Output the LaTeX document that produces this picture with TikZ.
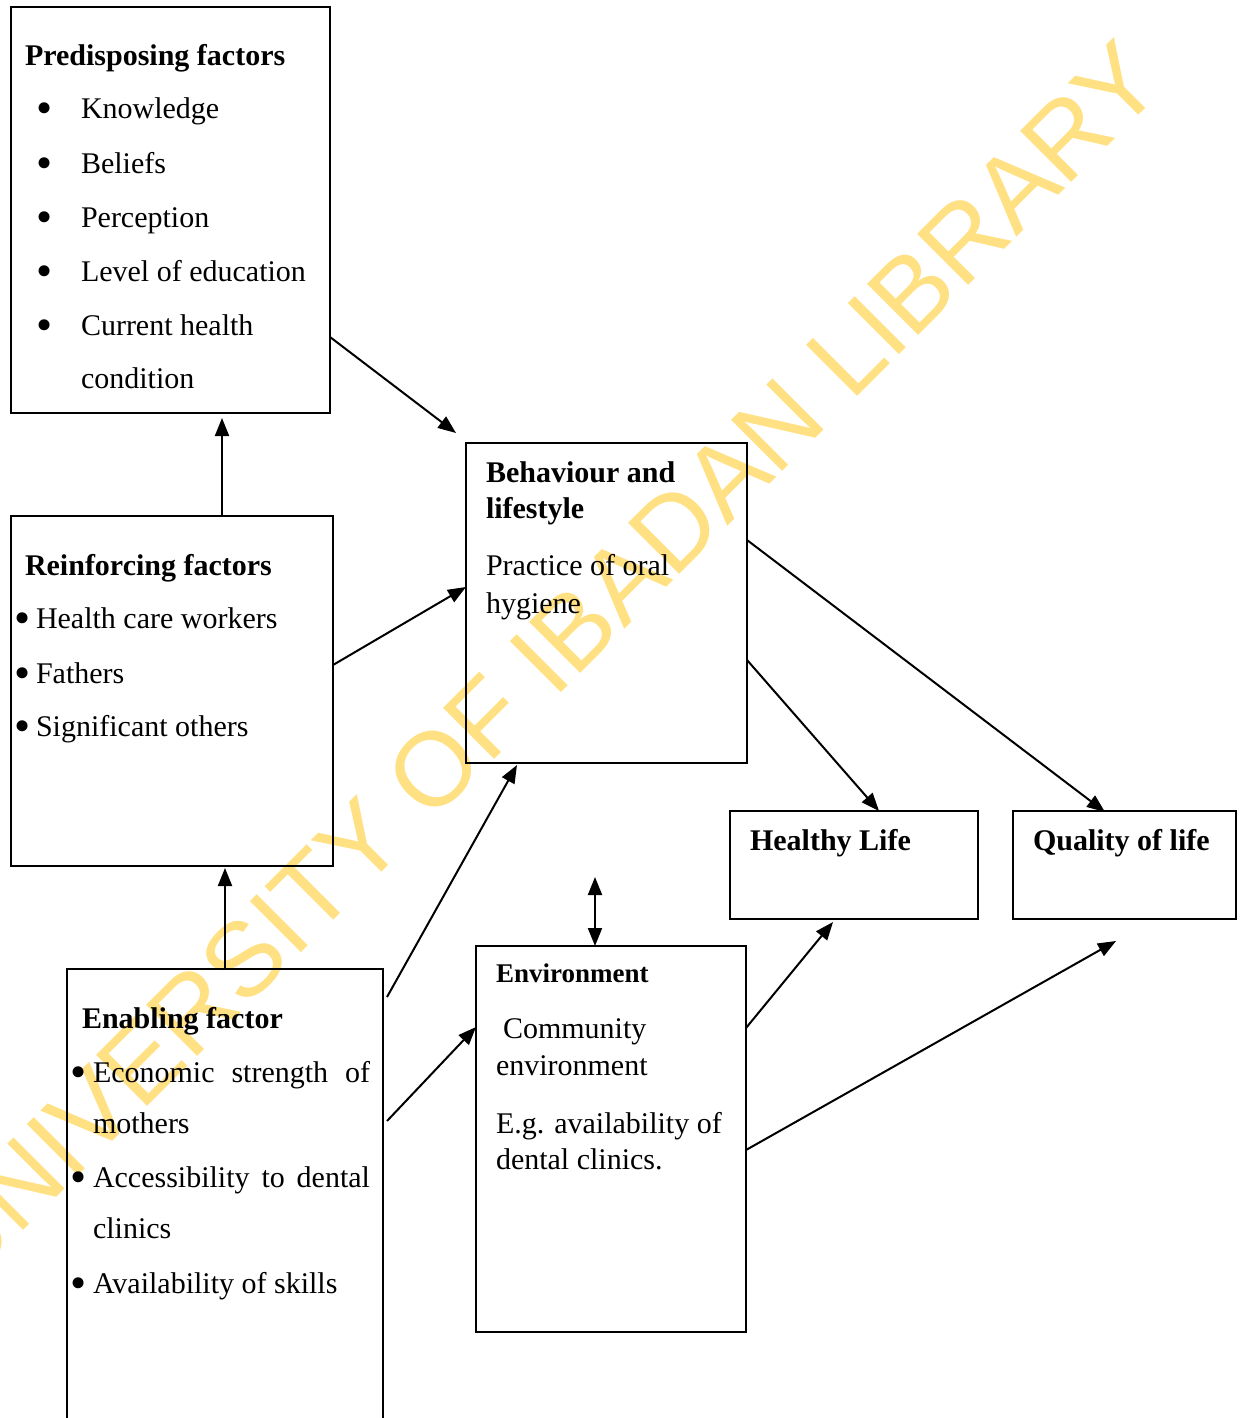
\documentclass[tikz,border=0pt]{standalone}
\usepackage{fontspec}
\setmainfont{Liberation Serif}
\newfontfamily\wmfont{Liberation Sans}
\usetikzlibrary{arrows.meta}
\definecolor{wmyellow}{HTML}{FFE082}
\tikzset{
  box/.style={draw, line width=2pt, rectangle, anchor=north west, inner sep=0pt, outer sep=0pt},
  txt/.style={anchor=base west, inner sep=0pt, outer sep=0pt, font=\fontsize{30}{36}\selectfont},
  ttl/.style={txt, font=\fontsize{30}{36}\selectfont\bfseries},
  bul/.style={anchor=base west, inner sep=0pt, outer sep=0pt, font=\fontsize{46}{46}\selectfont, yshift=-5pt},
  arr/.style={-{Triangle[length=18pt,width=14pt]}, line width=2pt},
  darr/.style={{Triangle[length=18pt,width=14pt]}-{Triangle[length=18pt,width=14pt]}, line width=2pt}
}
\begin{document}
\begin{tikzpicture}[x=1pt,y=-1pt]
\useasboundingbox (0,0) rectangle (1243,1418);
\clip (0,0) rectangle (1243,1418);
% watermark
\node[anchor=base west, inner sep=0pt, rotate=45, text=wmyellow, font=\wmfont\fontsize{105}{110}\selectfont] (wm) at (-36,1290) {UNIVERSITY OF IBADAN LIBRARY};

% boxes
\node[box, minimum width=319pt, minimum height=406pt] (pre) at (11,7) {};
\node[box, minimum width=322pt, minimum height=350pt] (rei) at (11,516) {};
\node[box, minimum width=316pt, minimum height=480pt] (ena) at (67,969) {};
\node[box, minimum width=281pt, minimum height=320pt] (beh) at (466,443) {};
\node[box, minimum width=270pt, minimum height=386pt] (env) at (476,946) {};
\node[box, minimum width=248pt, minimum height=108pt] (hea) at (730,811) {};
\node[box, minimum width=223pt, minimum height=108pt] (qua) at (1013,811) {};

% predisposing text
\node[ttl] (p0) at (25,66) {Predisposing factors};
\node[bul] (pb1) at (36,119) {•}; \node[txt] (p1) at (81,119) {Knowledge};
\node[bul] (pb2) at (36,173) {•}; \node[txt] (p2) at (81,173) {Beliefs};
\node[bul] (pb3) at (36,227) {•}; \node[txt] (p3) at (81,227) {Perception};
\node[bul] (pb4) at (36,281) {•}; \node[txt] (p4) at (81,281) {Level of education};
\node[bul] (pb5) at (36,335) {•}; \node[txt] (p5) at (81,335) {Current health};
\node[txt] (p6) at (81,388) {condition};

% reinforcing text
\node[ttl] (r0) at (25,575) {Reinforcing factors};
\node[bul] (rb1) at (14,628) {•}; \node[txt] (r1) at (36,628) {Health care workers};
\node[bul] (rb2) at (14,683) {•}; \node[txt] (r2) at (36,683) {Fathers};
\node[bul] (rb3) at (14,736) {•}; \node[txt] (r3) at (36,736) {Significant others};

% enabling text
\node[ttl] (e0) at (82,1028) {Enabling factor};
\node[bul] (eb1) at (70,1082) {•}; \node[txt] (e1) at (93,1082) {\makebox[277pt][s]{Economic strength of}};
\node[txt] (e2) at (93,1133) {mothers};
\node[bul] (eb3) at (70,1187) {•}; \node[txt] (e3) at (93,1187) {\makebox[277pt][s]{Accessibility to dental}};
\node[txt] (e4) at (93,1238) {clinics};
\node[bul] (eb5) at (70,1293) {•}; \node[txt] (e5) at (93,1293) {Availability of skills};

% behaviour text
\node[ttl] (b0) at (486,482) {Behaviour and};
\node[ttl] (b1) at (486,518) {lifestyle};
\node[txt] (b2) at (486,575) {Practice of oral};
\node[txt] (b3) at (486,613) {hygiene};

% environment text
\node[txt, font=\fontsize{27}{32}\selectfont\bfseries] (v0) at (496,982) {Environment};
\node[txt] (v1) at (503,1038) {Community};
\node[txt] (v2) at (496,1075) {environment};
\node[txt] (v3) at (496,1133) {E.g. availability of};
\node[txt] (v4) at (496,1169) {dental clinics.};

% outcome text
\node[ttl] (h0) at (750,850) {Healthy Life};
\node[ttl] (q0) at (1033,850) {Quality of life};

% free ends
\coordinate (envtop) at (595,877);
\coordinate (qfree) at (1116,941);

% connectors
\draw[arr] ([yshift=-330pt]pre.north east) -- ([xshift=-10pt,yshift=10pt]beh.north west);
\draw[arr] ([xshift=211pt]rei.north west) -- ([xshift=211pt,yshift=-5pt]pre.south west);
\draw[arr] ([xshift=158pt]ena.north west) -- ([xshift=214pt,yshift=-2pt]rei.south west);
\draw[arr] ([yshift=-149pt]rei.north east) -- ([yshift=-144pt]beh.north west);
\draw[arr] ([xshift=4pt,yshift=-28pt]ena.north east) -- ([xshift=51pt,yshift=-2pt]beh.south west);
\draw[arr] ([xshift=4pt,yshift=-152pt]ena.north east) -- ([yshift=-81pt]env.north west);
\draw[darr] ([xshift=119pt]env.north west) -- (envtop);
\draw[arr] ([yshift=-217pt]beh.north east) -- ([xshift=149pt]hea.north west);
\draw[arr] ([yshift=-97pt]beh.north east) -- ([xshift=92pt,yshift=-1pt]qua.north west);
\draw[arr] ([yshift=-82pt]env.north east) -- ([xshift=103pt,yshift=-3pt]hea.south west);
\draw[arr] ([yshift=-204pt]env.north east) -- (qfree);
\end{tikzpicture}
\end{document}
